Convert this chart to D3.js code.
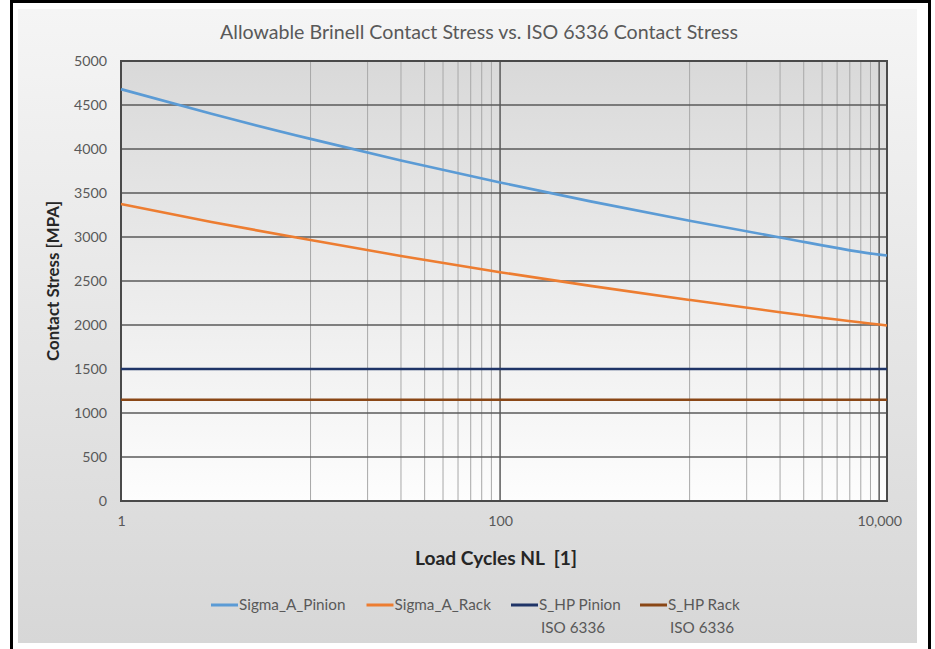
<!DOCTYPE html>
<html>
<head>
<meta charset="utf-8">
<script src="https://cdn.jsdelivr.net/npm/d3@7"></script>
<style>
  html, body { margin: 0; padding: 0; background: #ffffff; }
  svg { display: block; font-family: Lato, "Open Sans", sans-serif; }
</style>
</head>
<body>
<svg id="chart" width="935" height="649"></svg>
<script>
// Load cycles at which the allowable stresses were evaluated
const cycles = [1, 3, 10, 30, 100, 300, 1000, 3000, 10000, 11000];
// Allowable Brinell contact stress [MPa]
const sigmaAPinion = [4680, 4400, 4115, 3870, 3620, 3405, 3185, 2995, 2800, 2790];
const sigmaARack   = [3375, 3170, 2965, 2785, 2600, 2445, 2285, 2145, 2005, 1995];
// ISO 6336 permissible contact stress [MPa]
const sHpPinion = 1500;
const sHpRack   = 1150;

const seriesNames  = ["Sigma_A_Pinion", "Sigma_A_Rack", "S_HP Pinion\nISO 6336", "S_HP Rack\nISO 6336"];
const seriesColors = ["#5b9bd5", "#ed7d31", "#1f3467", "#8a4716"];
const yTicks = [0, 500, 1000, 1500, 2000, 2500, 3000, 3500, 4000, 4500, 5000];
const xTicks = [1, 100, 10000];
const xMinor = [10, 20, 30, 40, 50, 60, 70, 80, 90, 1000, 2000, 3000, 4000, 5000, 6000, 7000, 8000, 9000];

const titleText = "Allowable Brinell Contact Stress vs. ISO 6336 Contact Stress";
const xTitle = "Load Cycles NL  [1]";
const yTitle = "Contact Stress [MPA]";

const svg = d3.select("#chart");
const plot = { left: 121, right: 887, top: 61, bottom: 501 };

const x = d3.scaleLog().domain([1, 11000]).range([plot.left, plot.right]);
const y = d3.scaleLinear().domain([0, 5000]).range([plot.bottom, plot.top]);

// Backgrounds
const defs = svg.append("defs");
const gBg = defs.append("linearGradient").attr("id", "chartBg")
  .attr("x1", 0).attr("y1", 0).attr("x2", 0).attr("y2", 1);
gBg.append("stop").attr("offset", "0%").attr("stop-color", "#f5f5f5");
gBg.append("stop").attr("offset", "100%").attr("stop-color", "#d7d7d7");
const gPlot = defs.append("linearGradient").attr("id", "plotBg")
  .attr("x1", 0).attr("y1", 0).attr("x2", 0).attr("y2", 1);
gPlot.append("stop").attr("offset", "0%").attr("stop-color", "#d9d9d9");
gPlot.append("stop").attr("offset", "100%").attr("stop-color", "#fdfdfd");

svg.append("rect").attr("x", 18).attr("y", 9).attr("width", 899).attr("height", 634)
  .attr("fill", "url(#chartBg)");

// Frame
svg.append("line").attr("x1", 11.5).attr("x2", 11.5).attr("y1", 0).attr("y2", 649)
  .attr("stroke", "#000").attr("stroke-width", 3);
svg.append("line").attr("x1", 929.5).attr("x2", 929.5).attr("y1", 0).attr("y2", 649)
  .attr("stroke", "#000").attr("stroke-width", 3);
svg.append("line").attr("x1", 10).attr("x2", 931).attr("y1", 1.5).attr("y2", 1.5)
  .attr("stroke", "#000").attr("stroke-width", 3);

svg.append("rect").attr("x", plot.left).attr("y", plot.top)
  .attr("width", plot.right - plot.left).attr("height", plot.bottom - plot.top)
  .attr("fill", "url(#plotBg)");

// Minor vertical gridlines
svg.append("g").selectAll("line").data(xMinor).join("line")
  .attr("x1", d => x(d)).attr("x2", d => x(d))
  .attr("y1", plot.top).attr("y2", plot.bottom)
  .attr("stroke", "#a8a8a8").attr("stroke-width", 1);

// Major vertical gridlines
svg.append("g").selectAll("line").data(xTicks.slice(1)).join("line")
  .attr("x1", d => x(d)).attr("x2", d => x(d))
  .attr("y1", plot.top).attr("y2", plot.bottom)
  .attr("stroke", "#5a5a5a").attr("stroke-width", 1.5);

// Horizontal gridlines
svg.append("g").selectAll("line").data(yTicks.slice(1)).join("line")
  .attr("x1", plot.left).attr("x2", plot.right)
  .attr("y1", d => y(d)).attr("y2", d => y(d))
  .attr("stroke", "#5a5a5a").attr("stroke-width", 1.5);

// Plot border
svg.append("rect").attr("x", plot.left).attr("y", plot.top)
  .attr("width", plot.right - plot.left).attr("height", plot.bottom - plot.top)
  .attr("fill", "none").attr("stroke", "#4a4a4a").attr("stroke-width", 2);

// Series
const line = d3.line().x(d => x(d[0])).y(d => y(d[1])).curve(d3.curveMonotoneX);
const xEnds = [cycles[0], cycles[cycles.length - 1]];
const series = [
  cycles.map((c, i) => [c, sigmaAPinion[i]]),
  cycles.map((c, i) => [c, sigmaARack[i]]),
  xEnds.map(c => [c, sHpPinion]),
  xEnds.map(c => [c, sHpRack])
];
svg.append("g").selectAll("path").data(series).join("path")
  .attr("d", line).attr("fill", "none")
  .attr("stroke", (d, i) => seriesColors[i]).attr("stroke-width", 2.6);

// Helper: pick a font size that makes a sample string span a given width
function fitSize(text, width, weight) {
  const t = svg.append("text").attr("font-size", 20).attr("font-weight", weight || "normal")
    .style("white-space", "pre").text(text);
  const w = t.node().getComputedTextLength();
  t.remove();
  return 20 * width / w;
}

// Axis tick labels
const tickSize = fitSize("5000", 33);
const yAxis = d3.axisLeft(y).tickValues(yTicks).tickSize(0).tickPadding(0).tickFormat(d3.format("d"));
const gy = svg.append("g").attr("transform", `translate(107,0)`).call(yAxis);
gy.select(".domain").remove();
gy.selectAll("text").attr("font-size", tickSize).attr("fill", "#595959")
  .attr("font-family", "Lato, sans-serif");

const xAxis = d3.axisBottom(x).tickValues(xTicks).tickSize(0).tickPadding(0).tickFormat(d3.format(","));
const gx = svg.append("g").attr("transform", `translate(0,516)`).call(xAxis);
gx.select(".domain").remove();
gx.selectAll("text").attr("font-size", tickSize).attr("fill", "#595959")
  .attr("font-family", "Lato, sans-serif").attr("dy", "0.71em");

// Title
svg.append("text").attr("x", 479).attr("y", 32).attr("dy", "0.35em")
  .attr("text-anchor", "middle").attr("fill", "#595959")
  .attr("font-size", fitSize(titleText, 518)).text(titleText);

// Axis titles
svg.append("text").attr("x", 496).attr("y", 558).attr("dy", "0.35em")
  .attr("text-anchor", "middle").attr("fill", "#262626").attr("font-weight", "bold")
  .style("white-space", "pre")
  .attr("font-size", fitSize(xTitle, 162, "bold")).text(xTitle);
svg.append("text").attr("transform", "translate(53,281) rotate(-90)").attr("dy", "0.35em")
  .attr("text-anchor", "middle").attr("fill", "#262626").attr("font-weight", "bold")
  .attr("font-size", fitSize(yTitle, 160, "bold")).text(yTitle);

// Legend
const legendX = [211, 366.5, 511, 640];
const legendSize = fitSize("Sigma_A_Pinion", 106.5);
const leg = svg.append("g").selectAll("g").data(seriesNames).join("g")
  .attr("transform", (d, i) => `translate(${legendX[i]},605)`);
leg.append("line").attr("x1", 0).attr("x2", 27).attr("y1", 0).attr("y2", 0)
  .attr("stroke", (d, i) => seriesColors[i]).attr("stroke-width", 3);
leg.append("text").attr("x", 28).attr("fill", "#595959").attr("font-size", legendSize)
  .each(function (d) {
    const parts = d.split("\n");
    d3.select(this).selectAll("tspan").data(parts).join("tspan")
      .attr("x", (p, j) => j === 0 ? 28 : 30)
      .attr("y", (p, j) => j * 23)
      .attr("dy", "0.35em")
      .text(p => p);
  });
</script>
</body>
</html>
